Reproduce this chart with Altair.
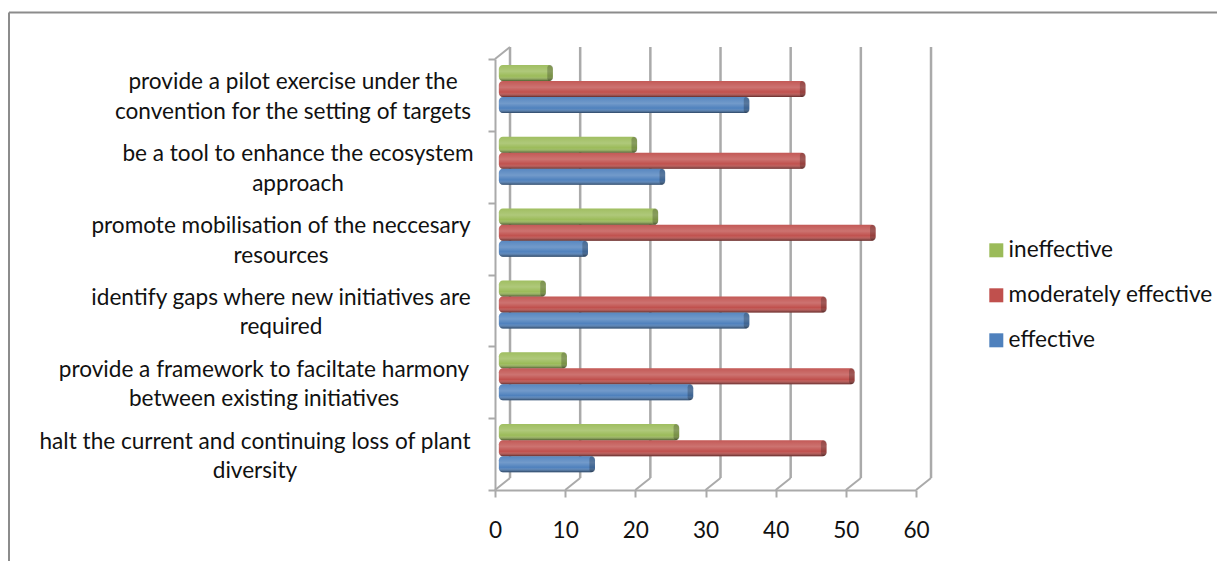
import altair as alt
import pandas as pd

categories = [
    "provide a pilot exercise under the|convention for the setting of targets",
    "be a tool to enhance the ecosystem|approach",
    "promote mobilisation of the neccesary|resources",
    "identify gaps where new initiatives are|required",
    "provide a framework to faciltate harmony|between existing initiatives",
    "halt the current and continuing loss of plant|diversity",
]
ineffective = [8, 20, 23, 7, 10, 26]
moderately = [44, 44, 54, 47, 51, 47]
effective = [36, 24, 13, 36, 28, 14]
series_names = ["ineffective", "moderately effective", "effective"]
series_colors = ["#9BBB59", "#C0504D", "#4F81BD"]
ticks = [0, 10, 20, 30, 40, 50, 60]
label_shift = [-202, -197, -214, -214, -231, -240]

FONT = "Lato"
FS = 22.6
W, H = 421, 431
rows = []
for i, c in enumerate(categories):
    for s, v in zip(series_names, (ineffective[i], moderately[i], effective[i])):
        rows.append({"cat": c, "series": s, "value": v})
df = pd.DataFrame(rows)
xs = alt.Scale(domain=[0, 60], nice=False, zero=False)
ys = alt.Scale(domain=categories, paddingInner=0, paddingOuter=0)
yo = alt.Scale(domain=series_names, paddingInner=0, paddingOuter=0.74, align=0.25)
GRID = "#aaaaaa"
FRAME = "#8c8c8c"

tick_df = pd.DataFrame({"t": ticks})
base_t = alt.Chart(tick_df).transform_calculate(back="datum.t + 2.14")
one = alt.Chart(tick_df.head(1))

frame_top = one.mark_rule(color=FRAME, strokeWidth=2).encode(
    x=alt.value(-486), x2=alt.value(722), y=alt.value(-46.5))
frame_left = one.mark_rule(color=FRAME, strokeWidth=2).encode(
    x=alt.value(-486), y=alt.value(-46.5), y2=alt.value(502))

walls = base_t.mark_rule(color=GRID, strokeWidth=2.5).encode(
    x=alt.X("back:Q", scale=xs), y=alt.value(-12), y2=alt.value(419))
diag = base_t.mark_rule(color=GRID, strokeWidth=2).encode(
    x=alt.X("t:Q", scale=xs), x2="back:Q", y=alt.value(431), y2=alt.value(419))
diag_top = one.transform_calculate(back="datum.t + 2.14").mark_rule(color=GRID, strokeWidth=2).encode(
    x=alt.X("t:Q", scale=xs), x2="back:Q", y=alt.value(0), y2=alt.value(-12))

bar_base = alt.Chart(df).transform_calculate(start="0.55", end="datum.value + 0.25", cap="datum.value - 0.55")
y_enc = alt.Y("cat:N", scale=ys, sort=categories, axis=alt.Axis(
    title=None, labels=False, domainColor=GRID, domainWidth=2, tickColor=GRID, tickWidth=2, tickSize=7,
    tickBand="extent", grid=False))
yoff = alt.YOffset("series:N", scale=yo, sort=series_names)
bars = bar_base.mark_bar(cornerRadius=4).encode(
    x=alt.X("start:Q", scale=xs, axis=alt.Axis(
        title=None, values=ticks, grid=False, domainColor=GRID, domainWidth=2, tickColor=GRID, tickWidth=2,
        tickSize=7, labelFont=FONT, labelFontSize=FS, labelColor="#111111", labelPadding=22, labelFlush=False)),
    x2="end:Q", y=y_enc, yOffset=yoff,
    color=alt.Color("series:N", sort=series_names,
                    scale=alt.Scale(domain=series_names, range=series_colors),
                    legend=alt.Legend(title=None, orient="none", legendX=490, legendY=180, symbolType="square",
                                      symbolSize=196, symbolStrokeWidth=0, labelFont=FONT, labelFontSize=FS,
                                      labelColor="#111111", rowPadding=22, labelOffset=1, labelLimit=300)))
shade = bar_base.mark_bar(cornerRadius=4, color=alt.Gradient(
    gradient="linear", x1=0, x2=0, y1=0, y2=1, stops=[
        alt.GradientStop(offset=0, color="rgba(255,255,255,0.05)"),
        alt.GradientStop(offset=0.4, color="rgba(255,255,255,0.2)"),
        alt.GradientStop(offset=0.7, color="rgba(255,255,255,0.0)"),
        alt.GradientStop(offset=1, color="rgba(0,0,0,0.5)"),
    ])).encode(x=alt.X("start:Q", scale=xs), x2="end:Q", y=alt.Y("cat:N", scale=ys, sort=categories), yOffset=yoff)
caps = bar_base.mark_bar(cornerRadius=4, color="rgba(0,0,0,0.22)").encode(
    x=alt.X("cap:Q", scale=xs), x2="end:Q", y=alt.Y("cat:N", scale=ys, sort=categories), yOffset=yoff)

layers = [frame_top, frame_left, walls, diag, diag_top, bars, shade, caps]
for c, dx in zip(categories, label_shift):
    layers.append(alt.Chart(pd.DataFrame({"cat": [c], "v": [0]})).mark_text(
        align="center", baseline="middle", dx=dx, dy=-12.5, lineBreak="|", lineHeight=29.5, font=FONT, fontSize=FS,
        color="#111111").encode(x=alt.X("v:Q", scale=xs), y=alt.Y("cat:N", scale=ys, sort=categories),
                                text="cat:N"))

chart = alt.layer(*layers).properties(
    width=W, height=H, autosize=alt.AutoSizeParams(type="none"), background="white",
    padding={"left": 487, "top": 51, "right": 301, "bottom": 72},
).configure_view(stroke=None)
chart.save("out.html", embed_options={"renderer": "svg", "actions": False})
